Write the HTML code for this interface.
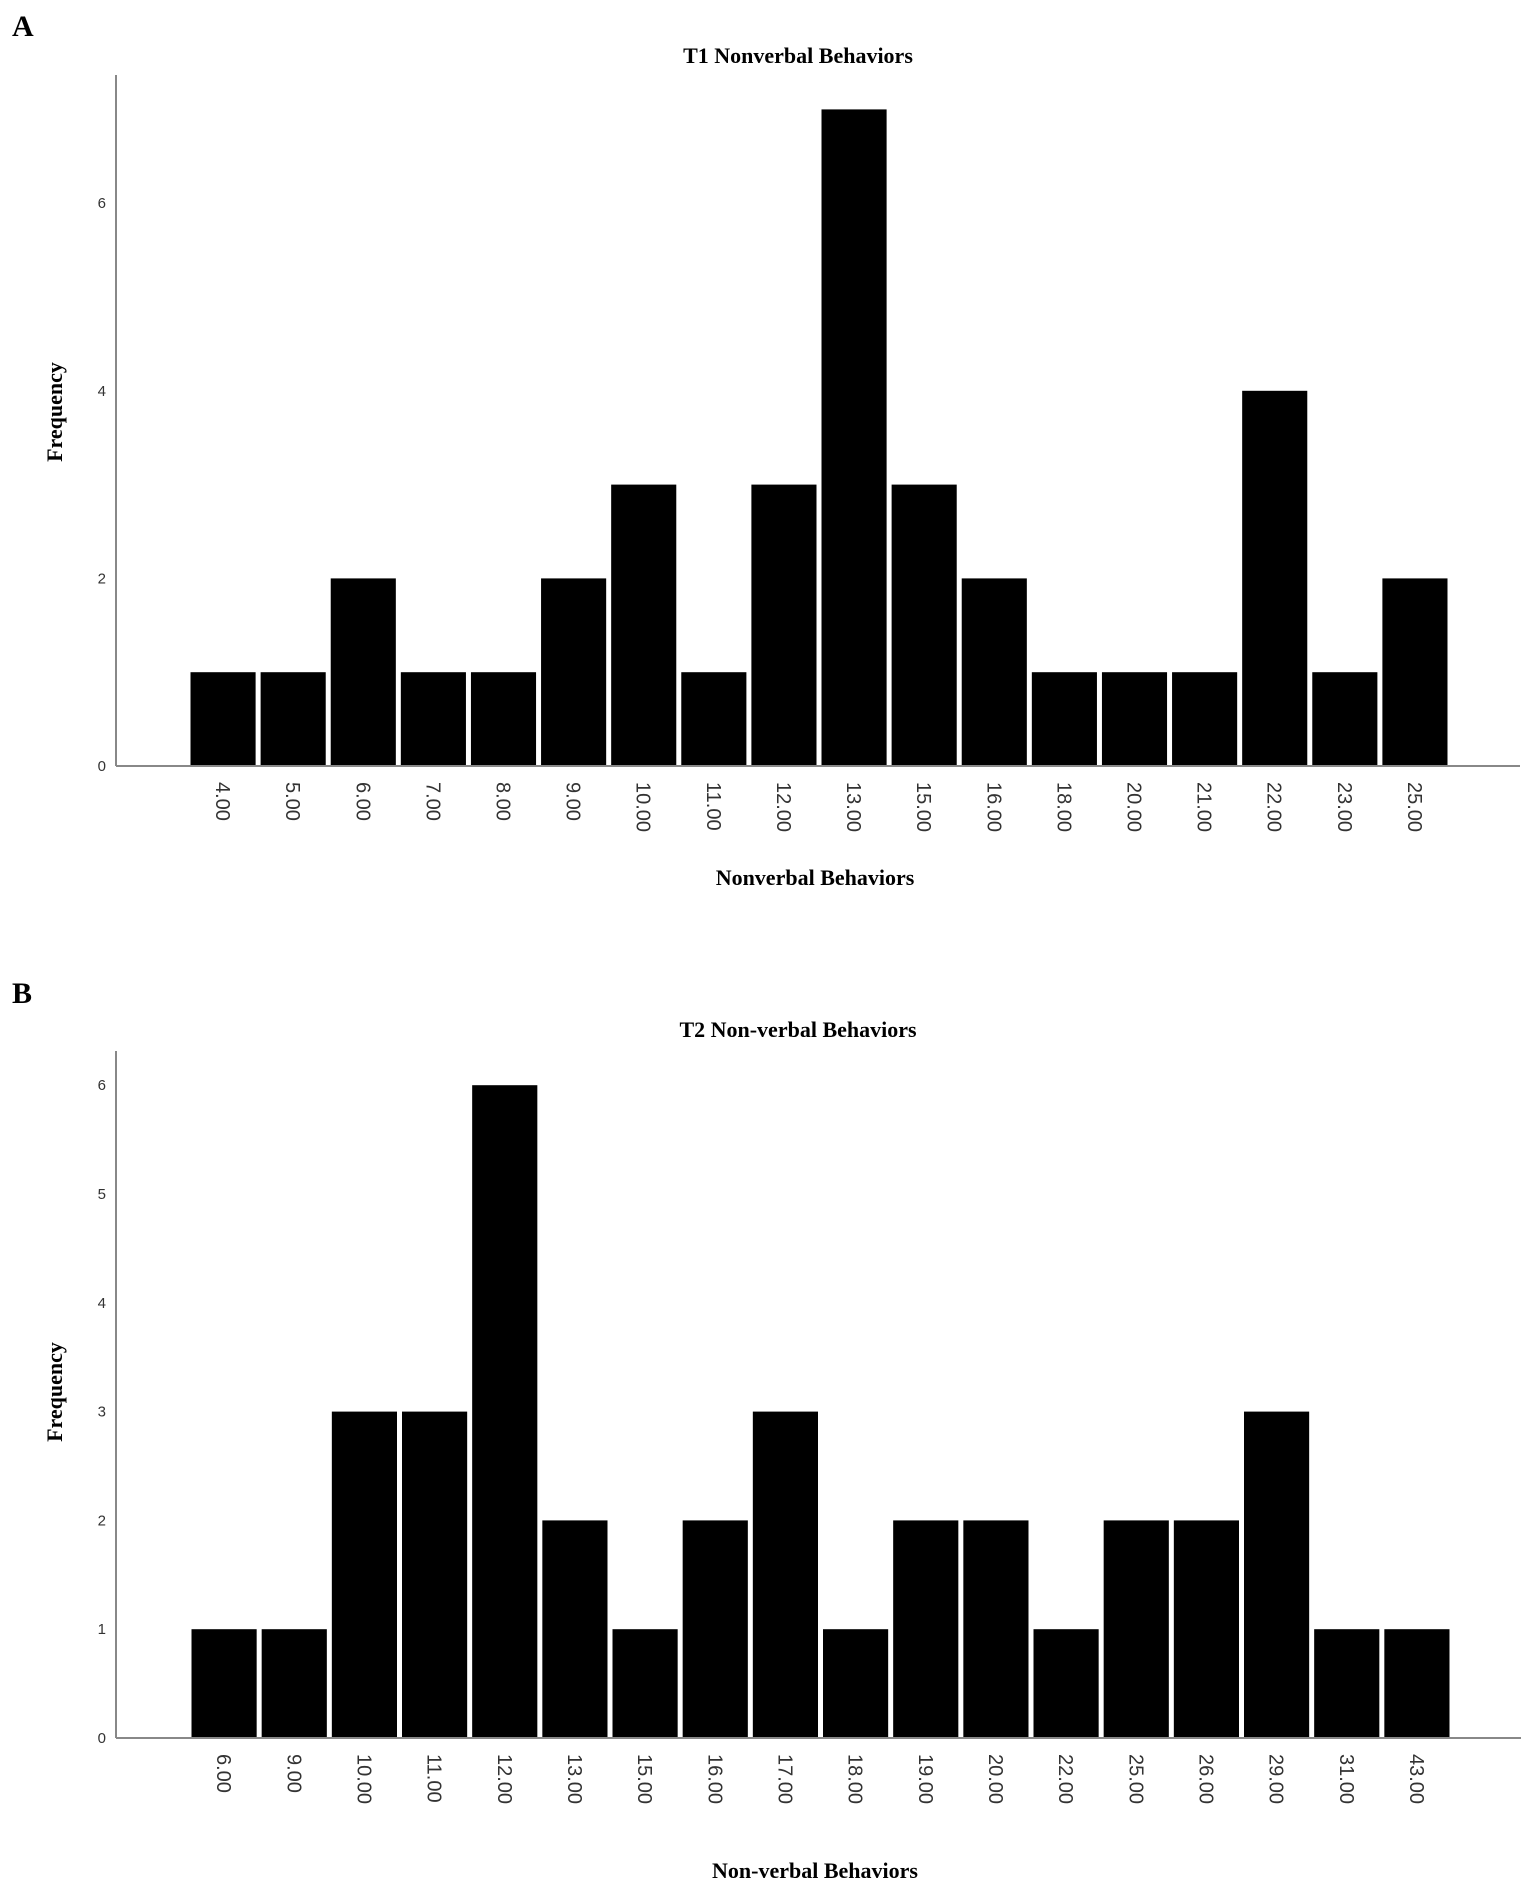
<!DOCTYPE html>
<html><head><meta charset="utf-8"><style>
body{margin:0;background:#fff;}
svg{display:block;}
</style></head><body>
<svg id="fig" width="1535" height="1878" xmlns="http://www.w3.org/2000/svg"></svg>
<script>
const catsA=["4.00","5.00","6.00","7.00","8.00","9.00","10.00","11.00","12.00","13.00","15.00","16.00","18.00","20.00","21.00","22.00","23.00","25.00"];
const valsA=[1,1,2,1,1,2,3,1,3,7,3,2,1,1,1,4,1,2];
const ticksA=[0,2,4,6];
const catsB=["6.00","9.00","10.00","11.00","12.00","13.00","15.00","16.00","17.00","18.00","19.00","20.00","22.00","25.00","26.00","29.00","31.00","43.00"];
const valsB=[1,1,3,3,6,2,1,2,3,1,2,2,1,2,2,3,1,1];
const ticksB=[0,1,2,3,4,5,6];
const NS="http://www.w3.org/2000/svg";
const svg=document.getElementById('fig');
function mk(tag,attrs,parent,text){const e=document.createElementNS(NS,tag);for(const k in attrs)e.setAttribute(k,attrs[k]);if(text!==undefined)e.textContent=text;(parent||svg).appendChild(e);return e;}
function chart(o){
  const g=mk('g',{});
  
  
  const y=v=>o.base-v*o.unit;
  const slot=(o.x1-o.x0)/o.cats.length;
  const xs=i=>o.x0+i*slot;
  let t=mk('text',{x:12,y:o.letterY,'font-family':'Liberation Serif, serif','font-weight':'bold','font-size':30},g,o.letter);
  
  
  t=mk('text',{x:o.titleX,y:o.titleY,'text-anchor':'middle','font-family':'Liberation Serif, serif','font-weight':'bold','font-size':22},g,o.title);
  
  
  o.vals.forEach((v,i)=>{
    const r=mk('rect',{x:xs(i)+2.5,y:y(v),width:slot-5,height:o.base-y(v),fill:'#000'},g);
    
    
  });
  let l=mk('line',{x1:116,y1:o.top,x2:116,y2:o.base,stroke:'#888','stroke-width':2},g);
  
  
  l=mk('line',{x1:116,y1:o.base,x2:o.axEnd,y2:o.base,stroke:'#888','stroke-width':2},g);
  
  
  o.ticks.forEach(v=>{
    const tt=mk('text',{x:106,y:y(v)+5,'text-anchor':'end','font-family':'Liberation Sans, sans-serif','font-size':15,fill:'#333'},g,String(v));
    
    
  });
  o.cats.forEach((c,i)=>{
    const cx=xs(i)+slot/2;
    const tt=mk('text',{x:0,y:0,transform:`translate(${cx-7},${o.base+16}) rotate(90)`,'font-family':'Liberation Sans, sans-serif','font-size':20,fill:'#333'},g,c);
    
    
  });
  t=mk('text',{x:o.titleX+17,y:o.xtY,'text-anchor':'middle','font-family':'Liberation Serif, serif','font-weight':'bold','font-size':22},g,o.xTitle);
  
  
  t=mk('text',{x:0,y:0,transform:`translate(62,${o.ytY}) rotate(-90)`,'text-anchor':'middle','font-family':'Liberation Serif, serif','font-weight':'bold','font-size':22},g,'Frequency');
  
  
}
chart({name:'chart-a',letter:'A',letterY:36,title:'T1 Nonverbal Behaviors',titleX:798,titleY:63,cats:catsA,vals:valsA,ticks:ticksA,base:766,unit:93.8,top:75,x0:188,x1:1450,axEnd:1520,xTitle:'Nonverbal Behaviors',xtY:885,ytY:412});
chart({name:'chart-b',letter:'B',letterY:1003,title:'T2 Non-verbal Behaviors',titleX:798,titleY:1037,cats:catsB,vals:valsB,ticks:ticksB,base:1738,unit:108.8,top:1051,x0:189,x1:1452,axEnd:1521,xTitle:'Non-verbal Behaviors',xtY:1878,ytY:1392});
</script>
</body></html>
